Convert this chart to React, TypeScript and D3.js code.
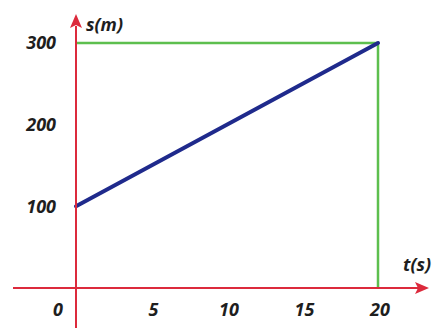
import React from "react";
import * as d3 from "d3";

const xTicks = [0, 5, 10, 15, 20];
const yTicks = [100, 200, 300];
const lineT = [0, 20];
const lineS = [100, 300];
const boxT = 20;
const boxS = 300;

const W = 436;
const H = 328;
const font = "'Open Sans', sans-serif";

export default function App() {
  const x = d3.scaleLinear().domain([0, 20]).range([76, 378]);
  const y = d3.scaleLinear().domain([0, 300]).range([288, 43]);

  const line = d3
    .line<number>()
    .x((d) => x(lineT[d]))
    .y((d) => y(lineS[d]));

  const red = "#dc2a3c";
  const textColor = "#1e1e1e";

  return (
    <svg
      width={W}
      height={H}
      style={{ position: "absolute", left: 0, top: 0, background: "#fff" }}
    >
      {/* green guide */}
      <path
        d={`M${x(0)},${y(boxS)}H${x(boxT)}V${y(0)}`}
        fill="none"
        stroke="#5dbf4e"
        strokeWidth={2.5}
      />
      {/* data line */}
      <path
        d={line([0, 1]) || ""}
        fill="none"
        stroke="#1f2a8c"
        strokeWidth={4}
        strokeLinecap="round"
      />
      {/* axes */}
      <line x1={13} x2={418} y1={y(0)} y2={y(0)} stroke={red} strokeWidth={2} />
      <path d={`M429,${y(0)}L415,${y(0) - 6}L418,${y(0)}L415,${y(0) + 6}Z`} fill={red} />
      <line x1={x(0)} x2={x(0)} y1={H} y2={26} stroke={red} strokeWidth={2} />
      <path d={`M${x(0)},14L${x(0) - 6},28L${x(0)},25L${x(0) + 6},28Z`} fill={red} />

      <g fontFamily={font} fontStyle="italic" fontWeight={700} fontSize={18} fill={textColor}>
        {yTicks.map((t) => (
          <text key={t} x={56} y={y(t)} dy="0.36em" textAnchor="end">
            {t}
          </text>
        ))}
        {xTicks.map((t) => (
          <text
            key={t}
            x={t === 0 ? 58 : x(t) + 2}
            y={316}
            textAnchor="middle"
          >
            {t}
          </text>
        ))}
        <text x={86} y={31}>s(m)</text>
        <text x={403} y={271}>t(s)</text>
      </g>
    </svg>
  );
}
